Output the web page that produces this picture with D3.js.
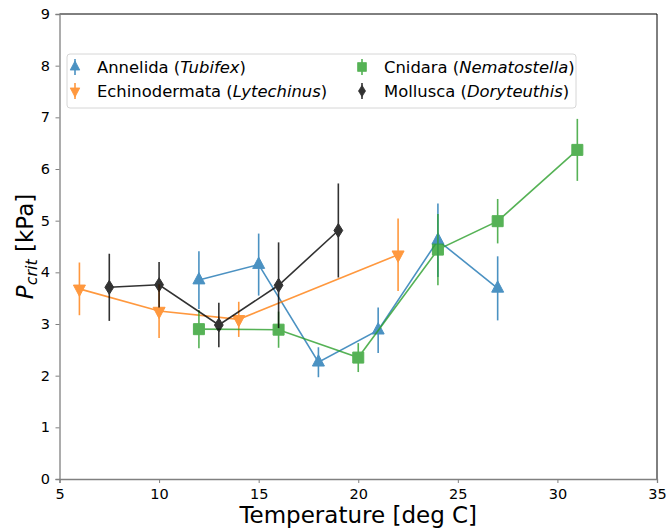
<!DOCTYPE html>
<html>
<head>
<meta charset="utf-8">
<script src="https://cdn.jsdelivr.net/npm/d3@7"></script>
<style>
  body { margin: 0; background: #fff; }
  text { font-family: "DejaVu Sans", sans-serif; fill: #000; }
</style>
</head>
<body>
<div id="chart"></div>
<script>
// series data: temperature, Pcrit, +/- error
var anneTemp = [12, 15, 18, 21, 24, 27];
var anneP = [3.85, 4.15, 2.26, 2.88, 4.62, 3.69];
var anneErr = [0.56, 0.6, 0.29, 0.44, 0.71, 0.62];

var echiTemp = [6, 10, 14, 22];
var echiP = [3.68, 3.25, 3.09, 4.34];
var echiErr = [0.51, 0.52, 0.34, 0.7];

var cnidTemp = [12, 16, 20, 24, 27, 31];
var cnidP = [2.9, 2.89, 2.35, 4.44, 4.99, 6.37];
var cnidErr = [0.37, 0.35, 0.28, 0.69, 0.43, 0.6];

var mollTemp = [7.5, 10, 13, 16, 19];
var mollP = [3.71, 3.76, 2.98, 3.75, 4.81];
var mollErr = [0.65, 0.44, 0.43, 0.83, 0.91];

var xTicks = [5, 10, 15, 20, 25, 30, 35];
var yTicks = [0, 1, 2, 3, 4, 5, 6, 7, 8, 9];

var series = [
    {name: "Annelida", genus: "Tubifex", color: "#1f77b4", marker: "up", temp: anneTemp, p: anneP, err: anneErr},
    {name: "Echinodermata", genus: "Lytechinus", color: "#ff7f0e", marker: "down", temp: echiTemp, p: echiP, err: echiErr},
    {name: "Cnidara", genus: "Nematostella", color: "#2ca02c", marker: "square", temp: cnidTemp, p: cnidP, err: cnidErr},
    {name: "Mollusca", genus: "Doryteuthis", color: "#000000", marker: "diamond", temp: mollTemp, p: mollP, err: mollErr}
];

var svgWidth = 668;
var svgHeight = 531;
var margin = {top: 14, bottom: 52, left: 59.5, right: 11};
var plotWidth = svgWidth - margin.left - margin.right;
var plotHeight = svgHeight - margin.top - margin.bottom;

var svg = d3.select("#chart").append("svg")
    .attr("width", svgWidth)
    .attr("height", svgHeight);

var chartGroup = svg.append("g")
    .attr("transform", `translate(${margin.left}, ${margin.top})`);

// scales
var xScale = d3.scaleLinear().domain([5, 35]).range([0, plotWidth]);
var yScale = d3.scaleLinear().domain([0, 9]).range([plotHeight, 0]);

// marker paths, centred on 0,0
function markerPath(type) {
    if (type == "up") return "M0,-7.5L6,3.8L-6,3.8Z";
    if (type == "down") return "M0,7.5L6,-3.8L-6,-3.8Z";
    if (type == "square") return "M-5.5,-5.5H5.5V5.5H-5.5Z";
    return "M0,-7L4.4,0L0,7L-4.4,0Z";
}

// spines: left/bottom grey, top/right black
chartGroup.append("line").attr("x1", 0).attr("x2", plotWidth).attr("y1", 0).attr("y2", 0)
    .attr("stroke", "#000").attr("stroke-width", 1);
chartGroup.append("line").attr("x1", plotWidth).attr("x2", plotWidth).attr("y1", 0).attr("y2", plotHeight)
    .attr("stroke", "#000").attr("stroke-width", 1);

// axes
var xAxis = d3.axisBottom(xScale).tickValues(xTicks).tickSize(4).tickPadding(5.5);
var yAxis = d3.axisLeft(yScale).tickValues(yTicks).tickSize(4).tickPadding(5.5);

var gx = chartGroup.append("g")
    .attr("transform", `translate(0, ${plotHeight})`)
    .call(xAxis);
var gy = chartGroup.append("g").call(yAxis);

[gx, gy].forEach(function(g) {
    g.select(".domain").attr("stroke", "#808080").attr("stroke-width", 1.3);
    g.selectAll(".tick line").attr("stroke", "#808080").attr("stroke-width", 1);
    g.selectAll(".tick text").style("font-family", "DejaVu Sans").style("font-size", "14.5px").attr("fill", "#000");
});

// data series
series.forEach(function(s) {
    var pts = s.temp.map(function(t, i) { return {t: t, p: s.p[i], e: s.err[i]}; });
    var g = chartGroup.append("g").attr("opacity", 0.8);

    g.selectAll(".ebar")
        .data(pts)
        .enter()
        .append("line")
        .attr("x1", d => xScale(d.t))
        .attr("x2", d => xScale(d.t))
        .attr("y1", d => yScale(d.p - d.e))
        .attr("y2", d => yScale(d.p + d.e))
        .attr("stroke", s.color)
        .attr("stroke-width", 1.6);

    g.append("path")
        .datum(pts)
        .attr("fill", "none")
        .attr("stroke", s.color)
        .attr("stroke-width", 1.6)
        .attr("d", d3.line().x(d => xScale(d.t)).y(d => yScale(d.p)));

    g.selectAll(".mark")
        .data(pts)
        .enter()
        .append("path")
        .attr("transform", d => `translate(${xScale(d.t)}, ${yScale(d.p)})`)
        .attr("d", markerPath(s.marker))
        .attr("fill", s.color)
        .attr("stroke", s.color)
        .attr("stroke-width", 1);
});

// legend
var legend = svg.append("g").attr("transform", "translate(67, 54)");
legend.append("rect")
    .attr("width", 509)
    .attr("height", 54)
    .attr("rx", 3)
    .attr("fill", "#fff")
    .attr("fill-opacity", 0.8)
    .attr("stroke", "#d6d6d6")
    .attr("stroke-width", 1);

series.forEach(function(s, i) {
    var col = Math.floor(i / 2);
    var row = i % 2;
    var item = legend.append("g")
        .attr("transform", `translate(${col == 0 ? 8 : 295}, ${row == 0 ? 13 : 37})`);
    var m = item.append("g").attr("opacity", 0.8);
    m.append("line").attr("x1", 0).attr("x2", 0).attr("y1", -8).attr("y2", 8)
        .attr("stroke", s.color).attr("stroke-width", 1.6);
    m.append("path").attr("d", markerPath(s.marker)).attr("fill", s.color).attr("stroke", s.color)
        .attr("transform", "scale(0.8)");
    var t = item.append("text")
        .attr("x", 22)
        .attr("y", 6)
        .style("font-size", "16.4px");
    t.append("tspan").text(s.name + " (");
    t.append("tspan").style("font-style", "italic").text(s.genus);
    t.append("tspan").text(")");
});

// axis labels
svg.append("text")
    .attr("x", margin.left + plotWidth / 2)
    .attr("y", 523)
    .attr("text-anchor", "middle")
    .style("font-size", "23px")
    .text("Temperature [deg C]");

var yl = svg.append("text")
    .attr("transform", `translate(33, ${margin.top + plotHeight / 2}) rotate(-90)`)
    .attr("text-anchor", "middle")
    .style("font-size", "23px");
yl.append("tspan").style("font-style", "italic").text("P");
yl.append("tspan").style("font-style", "italic").style("font-size", "16px").attr("dy", 4).text("crit");
yl.append("tspan").attr("dy", -4).text(" [kPa]");
</script>
</body>
</html>
